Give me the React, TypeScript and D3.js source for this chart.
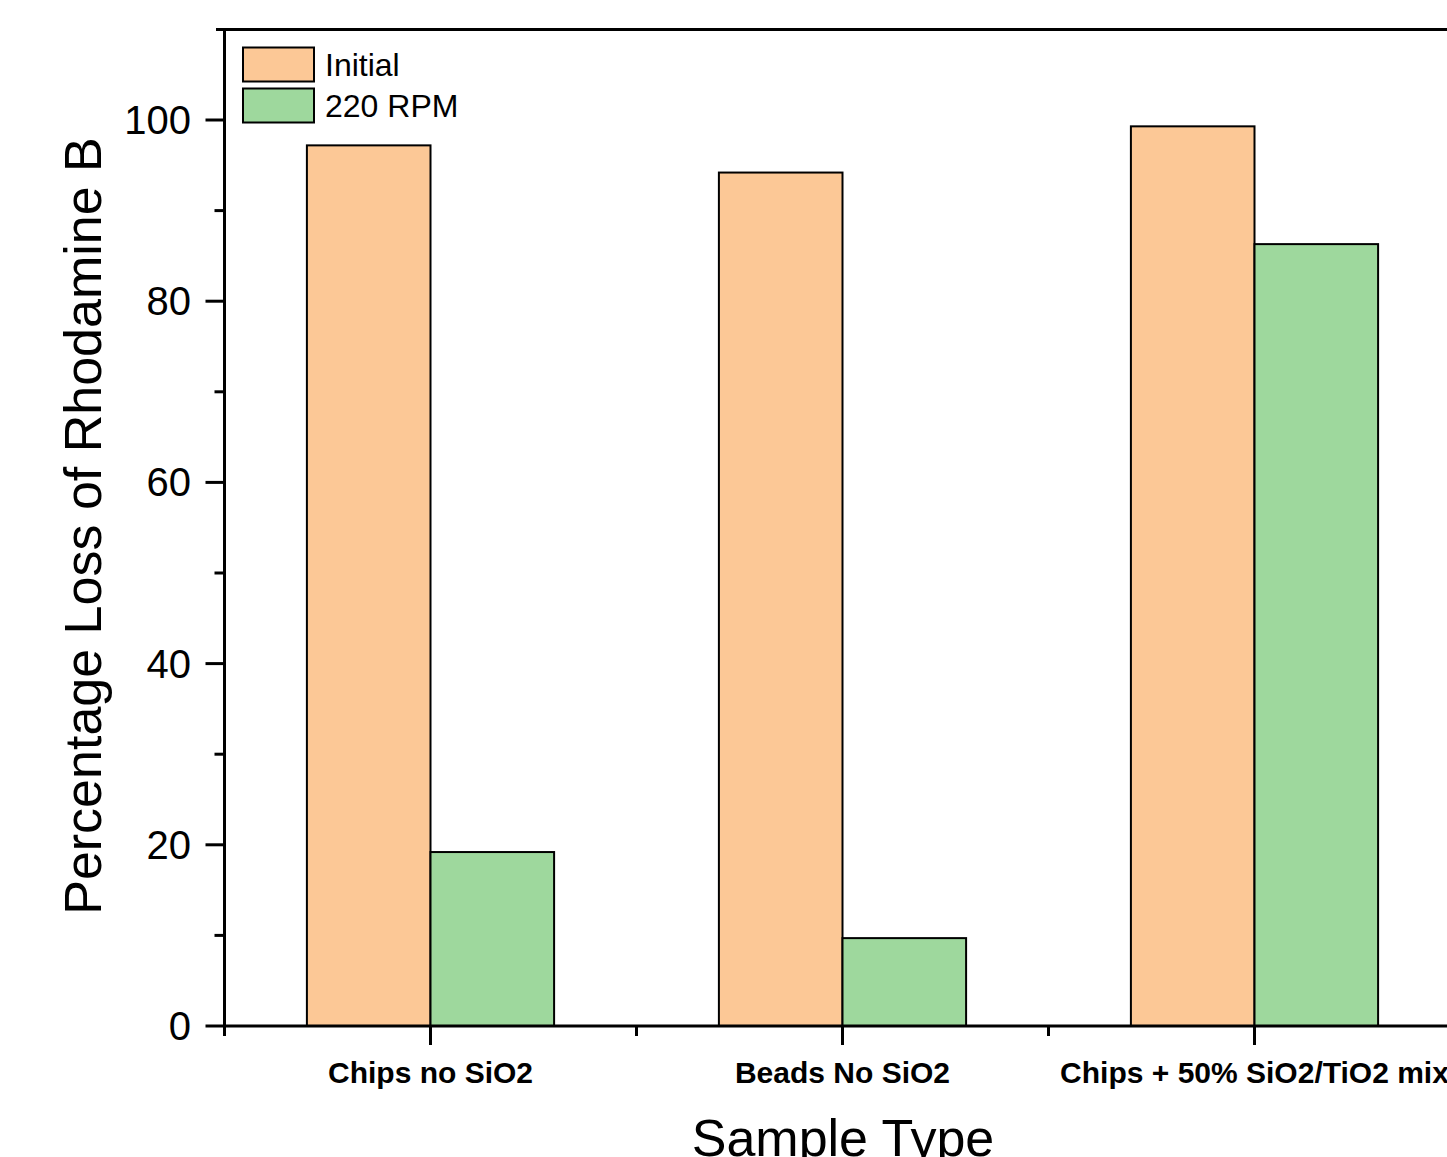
import React from "react";
import * as d3 from "d3";

const categories = ["Chips no SiO2", "Beads No SiO2", "Chips + 50% SiO2/TiO2 mix"];
const initialValues = [97.2, 94.2, 99.3];
const rpmValues = [19.2, 9.7, 86.3];
const seriesNames = ["Initial", "220 RPM"];
const yTicks = [0, 20, 40, 60, 80, 100];
const yMinorTicks = [10, 30, 50, 70, 90];

const W = 1447;
const H = 1157;
const colors = ["#FCC896", "#9ED89D"];
const FONT = "Arial, 'Liberation Sans', Helvetica, sans-serif";

export default function App() {
  const y = d3.scaleLinear().domain([0, 110]).range([1026, 29.4]);
  const x = d3.scaleLinear().domain([0.5, 3.5]).range([224.5, 1460.5]);
  const barW = 0.3;
  const series = [initialValues, rpmValues];
  const axisX = 224.5;
  const axisY = 1026;
  const topY = 29.5;

  return (
    <div style={{ position: "absolute", left: 0, top: 0 }}>
      <svg width={W} height={H} style={{ display: "block", background: "#fff" }}>
        {/* bars */}
        {series.map((vals, si) =>
          vals.map((v, i) => {
            const c = i + 1;
            const x0 = si === 0 ? x(c - barW) : x(c);
            const x1 = si === 0 ? x(c) : x(c + barW);
            return (
              <rect
                key={`${si}-${i}`}
                x={x0}
                y={y(v)}
                width={x1 - x0}
                height={y(0) - y(v)}
                fill={colors[si]}
                stroke="#000"
                strokeWidth={2}
              />
            );
          })
        )}
        {/* frame lines */}
        <line x1={216} x2={W} y1={topY} y2={topY} stroke="#000" strokeWidth={3} />
        <line x1={axisX} x2={axisX} y1={topY - 1.5} y2={axisY + 10} stroke="#000" strokeWidth={3} />
        <line x1={axisX - 1.5} x2={W} y1={axisY} y2={axisY} stroke="#000" strokeWidth={3} />
        {/* y ticks */}
        {yTicks.map((t) => (
          <g key={`yt${t}`}>
            <line x1={axisX - 19} x2={axisX} y1={y(t)} y2={y(t)} stroke="#000" strokeWidth={3} />
            <text
              x={191}
              y={y(t) + 14}
              textAnchor="end"
              fontFamily={FONT}
              fontSize={40}
              fill="#000"
            >
              {t}
            </text>
          </g>
        ))}
        {yMinorTicks.map((t) => (
          <line key={`ym${t}`} x1={axisX - 10} x2={axisX} y1={y(t)} y2={y(t)} stroke="#000" strokeWidth={3} />
        ))}
        {/* x ticks */}
        {categories.map((cat, i) => (
          <g key={`xt${i}`}>
            <line x1={x(i + 1)} x2={x(i + 1)} y1={axisY} y2={axisY + 19} stroke="#000" strokeWidth={3} />
            <text
              x={x(i + 1)}
              y={1083}
              textAnchor="middle"
              fontFamily={FONT}
              fontWeight="bold"
              fontSize={30}
              fill="#000"
            >
              {cat}
            </text>
          </g>
        ))}
        {[1.5, 2.5].map((t) => (
          <line key={`xm${t}`} x1={x(t)} x2={x(t)} y1={axisY} y2={axisY + 10} stroke="#000" strokeWidth={3} />
        ))}
        {/* axis titles */}
        <text
          transform={`translate(101, 526) rotate(-90)`}
          textAnchor="middle"
          fontFamily={FONT}
          fontSize={52}
          fill="#000"
        >
          Percentage Loss of Rhodamine B
        </text>
        <text x={843} y={1156} textAnchor="middle" fontFamily={FONT} fontSize={52} fill="#000">
          Sample Type
        </text>
        {/* legend */}
        {seriesNames.map((name, i) => (
          <g key={`lg${i}`}>
            <rect
              x={243}
              y={47.5 + i * 41}
              width={71}
              height={34}
              fill={colors[i]}
              stroke="#000"
              strokeWidth={2}
            />
            <text x={325} y={76 + i * 41} fontFamily={FONT} fontSize={32} fill="#000">
              {name}
            </text>
          </g>
        ))}
      </svg>
    </div>
  );
}
